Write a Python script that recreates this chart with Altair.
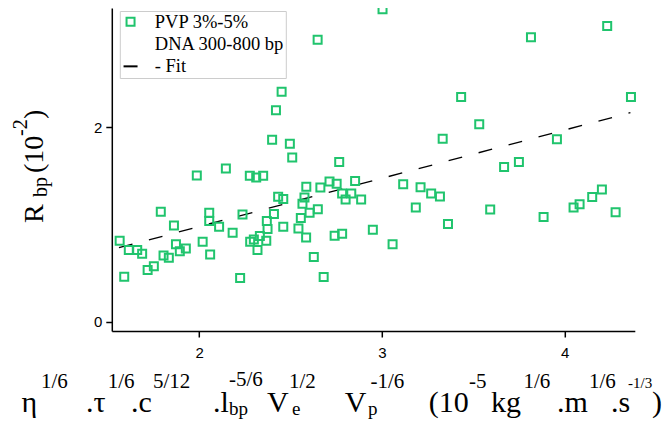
import altair as alt
import pandas as pd

# ---- data ----
x_vals = [1.565,1.590,1.615,1.661,1.688,1.718,1.752,1.790,1.805,1.834,
          1.862,1.873,1.894,1.927,1.987,2.019,2.060,2.055,2.055,2.109,
          2.146,2.183,2.224,2.237,2.277,2.312,2.350,2.279,2.299,2.319,
          2.332,2.367,2.374,2.370,2.409,2.432,2.460,2.460,2.399,2.420,
          2.451,2.496,2.509,2.543,2.556,2.565,2.576,2.586,2.585,2.604,
          2.627,2.648,2.649,2.663,2.681,2.713,2.741,2.752,2.766,2.782,
          2.782,2.801,2.832,2.853,2.886,2.950,3.003,3.058,3.116,3.185,
          3.211,3.269,3.317,3.332,3.361,3.433,3.532,3.592,3.668,3.749,
          3.815,3.957,3.884,4.048,4.081,4.150,4.203,4.232,4.278,4.362]
y_vals = [0.833,0.463,0.738,0.738,0.700,0.532,0.573,1.132,0.683,0.658,
          0.992,0.799,0.727,0.755,1.504,0.823,0.693,1.121,1.036,0.977,
          1.578,0.916,0.450,1.103,1.502,1.484,1.502,0.823,0.848,0.738,
          0.882,0.833,0.954,1.036,1.108,1.286,1.262,0.977,1.872,2.175,
          2.366,1.831,1.691,0.961,1.067,1.214,1.278,1.389,0.868,1.123,
          0.666,2.901,1.159,1.381,0.460,1.444,0.885,1.420,1.643,0.905,
          1.321,1.259,1.321,1.448,1.259,0.947,3.214,0.799,1.414,1.177,
          1.383,1.321,1.290,1.883,1.005,2.312,2.031,1.156,1.592,1.643,
          2.926,1.877,1.077,1.177,1.208,1.283,1.362,3.042,1.126,2.312]
fit_x = [1.561, 4.359]
fit_y = [0.762, 2.151]
series_names = ["PVP 3%-5%", "DNA 300-800 bp", "- Fit"]
x_ticks = [2, 3, 4]
y_ticks = [0, 2]

GREEN = "#20c46d"
SERIF = "Liberation Serif"
SANS = "Liberation Sans"

pts = pd.DataFrame({"x": x_vals, "y": y_vals, "series": series_names[0]})
fit = pd.DataFrame({"x": fit_x, "y": fit_y})

xscale = alt.Scale(domain=[1.522, 4.383], nice=False, zero=False)
yscale = alt.Scale(domain=[-0.094, 3.227], nice=False, zero=False)

axis_common = dict(title="", grid=False, domainColor="black", domainWidth=1.5,
                   tickColor="black", tickWidth=1.5, tickSize=6,
                   labelFont=SANS, labelFontSize=15, labelColor="black")
xaxis = alt.Axis(values=x_ticks, labelPadding=8, **axis_common)
yaxis = alt.Axis(values=y_ticks, labelPadding=4, **axis_common)

legend = alt.Legend(
    title="", titlePadding=0, orient="none", legendX=8, legendY=3,
    padding=1.5, rowPadding=3.3, labelOffset=15,
    labelFont=SERIF, labelFontSize=18.5, labelColor="black",
    strokeColor="#cccccc", fillColor="white",
    symbolSize=64, symbolStrokeWidth=2,
    labelExpr="datum.value == 'PVP 3%-5%' ? '\u2002PVP 3%-5%' : datum.label",
)

fit_line = alt.Chart(fit).mark_line(color="black", strokeWidth=1.3,
                                    strokeDash=[14, 17]).encode(
    x=alt.X("x:Q", scale=xscale, axis=xaxis),
    y=alt.Y("y:Q", scale=yscale, axis=yaxis),
)

points = alt.Chart(pts).mark_point(filled=False, strokeWidth=2, size=64,
                                   opacity=1).encode(
    x=alt.X("x:Q", scale=xscale, axis=xaxis),
    y=alt.Y("y:Q", scale=yscale, axis=yaxis),
    stroke=alt.Stroke("series:N", scale=alt.Scale(domain=series_names,
                      range=[GREEN, "transparent", "black"]), legend=legend),
    shape=alt.Shape("series:N", scale=alt.Scale(domain=series_names,
                    range=["square", "square", "M-1.75,0L1.75,0"]), legend=legend),
)


def txt(s, x, y, size, angle=0):
    return alt.Chart(alt.InlineData(values=[{}])).mark_text(
        text=s, font=SERIF, fontSize=size, align="left",
        baseline="alphabetic", angle=angle, color="black"
    ).encode(x=alt.value(x), y=alt.value(y))


L, T = 111.8, 8.0            # plot origin on the page
B, SP, SB = 412, 388, 415    # page baselines: base, superscript, subscript
xt = [
    ("η", 21.5, B, 30), ("1/6", 41, SP, 21),
    (".τ", 86, B, 30), ("1/6", 107.7, SP, 21),
    (".c", 131, B, 30), ("5/12", 153, SP, 21),
    (".l", 213, B, 30), ("bp", 229, SB, 19), ("-5/6", 229, SP - 2, 21),
    ("V", 267, B, 30), ("e", 292, SB, 19), ("1/2", 289, SP, 21),
    ("V", 344.7, B, 30), ("p", 368, SB, 19), ("-1/6", 370.5, SP, 21),
    ("(10", 428.7, B, 30), ("-5", 469, SP, 21),
    ("kg", 491, B, 30), ("1/6", 523.5, SP, 21),
    (".m", 557, B, 30), ("1/6", 589, SP, 21),
    (".s", 611, B, 30), ("-1/3", 628, SP, 15),
    (")", 652, B, 30),
]
yt = [
    ("R", 43, 223, 28), ("bp", 47, 197, 20),
    ("(10", 43, 173, 28), ("-2", 27, 136, 20), (")", 43, 119, 28),
]

layers = [fit_line, points]
layers += [txt(s, x - L, y - T, z) for s, x, y, z in xt]
layers += [txt(s, x - L, y - T, z, 270) for s, x, y, z in yt]

chart = alt.layer(*layers).properties(
    width=523, height=323,
    autosize=alt.AutoSizeParams(type="none"),
    padding={"left": 103.8, "top": 0, "right": 29.2, "bottom": 92},
).configure_view(strokeWidth=0)

chart.save("out.html", embed_options={"renderer": "svg", "actions": False})
